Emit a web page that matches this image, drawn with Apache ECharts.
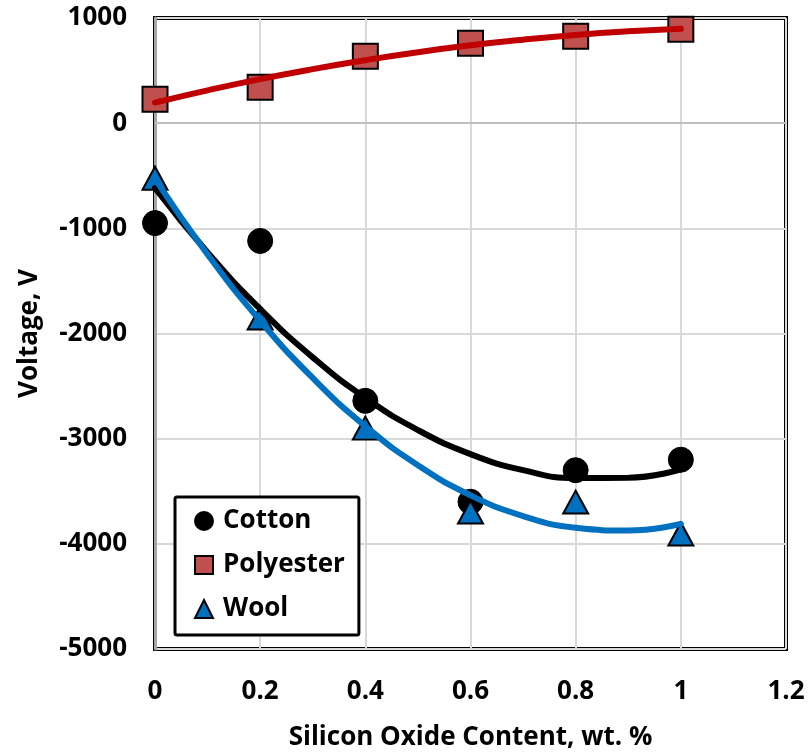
<!DOCTYPE html>
<html>
<head>
<meta charset="utf-8">
<script src="https://cdn.jsdelivr.net/npm/echarts@6/dist/echarts.min.js"></script>
<style>
  html, body { margin: 0; padding: 0; background: #fff; }
  #chart { width: 810px; height: 756px; }
</style>
</head>
<body>
<div id="chart"></div>
<script>
// Measured surface voltage vs. SiO2 loading
const silicaContent = [0, 0.2, 0.4, 0.6, 0.8, 1];
const cottonVoltage = [-950, -1120, -2640, -3600, -3300, -3200];
const polyesterVoltage = [228, 342, 637, 760, 827, 894];
const woolVoltage = [-523, -1853, -2900, -3698, -3603, -3907];

// Second-order trend curves, sampled every 0.1 wt.%
const trendX = [0, 0.1, 0.2, 0.3, 0.4, 0.5, 0.6, 0.7, 0.8, 0.9, 1];
const cottonTrend = [-615, -1230, -1767, -2227, -2612, -2918, -3147, -3299, -3374, -3372, -3293];
const polyesterTrend = [196, 312, 419, 514, 599, 675, 740, 794, 839, 873, 897];
const woolTrend = [-530, -1248, -1879, -2423, -2881, -3253, -3538, -3736, -3847, -3873, -3811];

const xTicks = { min: 0, max: 1.2, step: 0.2 };
const yTicks = { min: -5000, max: 1000, step: 1000 };

const pair = (xs, ys) => xs.map((x, i) => [x, ys[i]]);

const FONT = '"Open Sans", Lato, sans-serif';
const SIZE = 26;
const chart = echarts.init(document.getElementById('chart'), null, { renderer: 'canvas' });

chart.setOption({
  animation: false,
  backgroundColor: '#fff',
  grid: {
    left: 155, right: 24, top: 18, bottom: 107,
    show: true, borderColor: '#000', borderWidth: 4,
    backgroundColor: 'transparent'
  },
  legend: {
    data: ['Cotton', 'Polyester', 'Wool'],
    orient: 'vertical',
    left: 175, top: 497,
    padding: [11, 14, 13, 19],
    itemGap: 18,
    itemWidth: 18, itemHeight: 18,
    borderColor: '#000', borderWidth: 3, borderRadius: 2,
    backgroundColor: '#fff',
    textStyle: { fontFamily: FONT, fontWeight: 'bold', fontSize: SIZE, color: '#000', padding: [0, 0, 0, 5] }
  },
  xAxis: {
    type: 'value', min: xTicks.min, max: xTicks.max, interval: xTicks.step,
    name: 'Silicon Oxide Content, wt. %',
    nameLocation: 'middle', nameGap: 76,
    nameTextStyle: { fontFamily: FONT, fontWeight: 'bold', fontSize: SIZE, color: '#000' },
    axisLine: { show: false },
    axisTick: { show: false },
    axisLabel: { fontFamily: FONT, fontWeight: 'bold', fontSize: SIZE, color: '#000', margin: 30 },
    splitLine: { show: true, lineStyle: { color: '#d9d9d9', width: 2 } }
  },
  yAxis: {
    type: 'value', min: yTicks.min, max: yTicks.max, interval: yTicks.step,
    name: 'Voltage, V',
    nameLocation: 'middle', nameGap: 112,
    nameTextStyle: { fontFamily: FONT, fontWeight: 'bold', fontSize: SIZE, color: '#000' },
    axisLine: { show: true, lineStyle: { color: '#a6a6a6', width: 3 } },
    axisTick: { show: false },
    axisLabel: {
      fontFamily: FONT, fontWeight: 'bold', fontSize: SIZE, color: '#000', margin: 28,
      formatter: v => String(v)
    },
    splitLine: { show: true, lineStyle: { color: '#d9d9d9', width: 2 } }
  },
  series: [
    {
      name: 'Cotton', type: 'scatter', data: pair(silicaContent, cottonVoltage),
      symbol: 'circle', symbolSize: 25,
      itemStyle: { color: '#000', borderColor: '#000', borderWidth: 1, opacity: 1 },
      z: 3
    },
    {
      name: 'Polyester', type: 'scatter', data: pair(silicaContent, polyesterVoltage),
      symbol: 'rect', symbolSize: 25,
      itemStyle: { color: '#C0504D', borderColor: '#000', borderWidth: 2, opacity: 1 },
      z: 3
    },
    {
      name: 'Wool', type: 'scatter', data: pair(silicaContent, woolVoltage),
      symbol: 'triangle', symbolSize: [25, 23],
      itemStyle: { color: '#0070C0', borderColor: '#000', borderWidth: 2, opacity: 1 },
      z: 3
    },
    {
      name: 'Polyester trend', type: 'line', data: pair(trendX, polyesterTrend),
      smooth: true, showSymbol: false, symbol: 'none',
      lineStyle: { color: '#C00000', width: 6, cap: 'round' },
      z: 4,
      markLine: {
        silent: true, symbol: 'none', label: { show: false },
        lineStyle: { color: '#bfbfbf', width: 2, type: 'solid' },
        data: [{ yAxis: 0 }],
        z: 1
      }
    },
    {
      name: 'Cotton trend', type: 'line', data: pair(trendX, cottonTrend),
      smooth: true, showSymbol: false, symbol: 'none',
      lineStyle: { color: '#000', width: 6, cap: 'round' },
      z: 4
    },
    {
      name: 'Wool trend', type: 'line', data: pair(trendX, woolTrend),
      smooth: true, showSymbol: false, symbol: 'none',
      lineStyle: { color: '#0070C0', width: 6, cap: 'round' },
      z: 4
    }
  ]
});
</script>
</body>
</html>
